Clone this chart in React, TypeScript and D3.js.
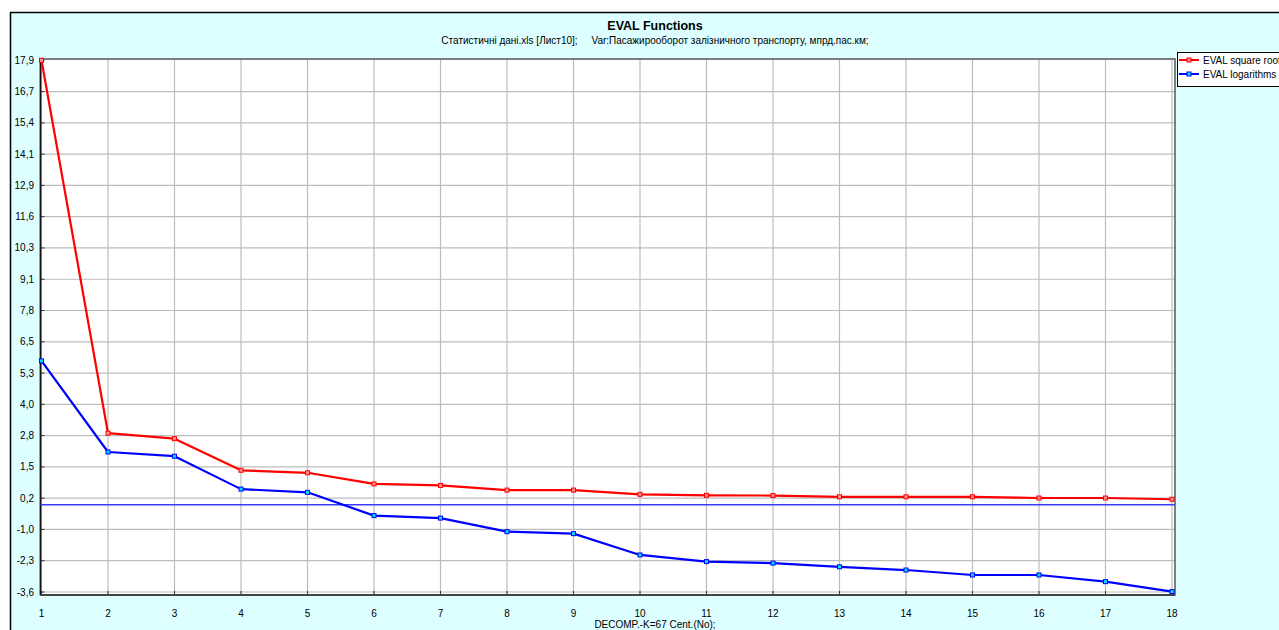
import React from 'react';
import * as d3 from 'd3';

// data
const components = [1, 2, 3, 4, 5, 6, 7, 8, 9, 10, 11, 12, 13, 14, 15, 16, 17, 18];
const sqrtValues = [17.92, 2.85, 2.63, 1.35, 1.25, 0.8, 0.74, 0.55, 0.55, 0.38, 0.34, 0.33, 0.28, 0.28, 0.28, 0.23, 0.23, 0.18];
const logValues = [5.77, 2.09, 1.92, 0.59, 0.46, -0.48, -0.58, -1.13, -1.21, -2.07, -2.34, -2.4, -2.55, -2.68, -2.88, -2.88, -3.15, -3.55];
const refLine = -0.04;
const yMin = -3.568;
const yMax = 17.92;
const yTickCount = 18;
const seriesNames = ['EVAL square roots', 'EVAL logarithms'];

const title = 'EVAL Functions';
const subtitle = 'Статистичні дані.xls [Лист10];     Var:Пасажирооборот залізничного транспорту, мпрд.пас.км;';
const xTitle = 'DECOMP.-K=67 Cent.(No);';

const W = 1279;
const H = 630;
const font = '"Liberation Sans", Arial, sans-serif';

const App = () => {
  const frame = { left: 40.5, right: 1175, top: 59, bottom: 595 };
  const x = d3.scaleLinear().domain([1, 18]).range([41.5, 1172]);
  const y = d3.scaleLinear().domain([yMin, yMax]).range([592, 60.3]);
  const yTicks = d3.range(yTickCount).map((i) => yMin + (i * (yMax - yMin)) / (yTickCount - 1));
  const fmt = (v) => d3.format('.1f')(v).replace('.', ',').replace('−', '-');

  const line = d3
    .line()
    .x((d) => x(d[0]))
    .y((d) => y(d[1]));

  const series = [
    { name: seriesNames[0], values: sqrtValues, color: '#ff0000', fill: '#ff9090' },
    { name: seriesNames[1], values: logValues, color: '#0000ff', fill: '#00e0ff' },
  ];
  const cx = 655;

  return (
    <div style={{ position: 'absolute', left: 0, top: 0 }}>
      <svg width={W} height={H} style={{ display: 'block', fontFamily: font }}>
        <rect x={0} y={0} width={W} height={H} fill="#ffffff" />
        <rect x={10.5} y={12.5} width={W + 20} height={H + 20} fill="#ddffff" stroke="#000" strokeWidth={1.5} />

        <text x={cx} y={29.5} textAnchor="middle" fontSize={12.5} fontWeight="bold" fill="#000">
          {title}
        </text>
        <text x={cx} y={44} textAnchor="middle" fontSize={10} fill="#000" style={{ whiteSpace: 'pre' }}>
          {subtitle}
        </text>

        {/* plot area */}
        <rect x={frame.left} y={frame.top} width={frame.right - frame.left} height={frame.bottom - frame.top} fill="#fff" />

        {/* grid */}
        {yTicks.slice(0, -1).map((t, i) => (
          <line key={'gy' + i} x1={frame.left} x2={frame.right} y1={y(t)} y2={y(t)} stroke="#bcbcbc" strokeWidth={1.2} />
        ))}
        {components.map((c) => (
          <line key={'gx' + c} x1={x(c)} x2={x(c)} y1={frame.top} y2={frame.bottom} stroke="#bcbcbc" strokeWidth={1.2} />
        ))}

        {/* ticks */}
        {yTicks.map((t, i) => (
          <g key={'ty' + i}>
            <line x1={frame.left} x2={frame.left + 4} y1={y(t)} y2={y(t)} stroke="#333" strokeWidth={1} />
            <text x={34} y={y(t) + 3.5} textAnchor="end" fontSize={10} fill="#000">
              {fmt(t)}
            </text>
          </g>
        ))}
        {components.map((c) => (
          <g key={'tx' + c}>
            <line x1={x(c)} x2={x(c)} y1={frame.bottom} y2={frame.bottom - 4} stroke="#333" strokeWidth={1} />
            <text x={x(c)} y={616.5} textAnchor="middle" fontSize={10} fill="#000">
              {c}
            </text>
          </g>
        ))}

        <rect
          x={frame.left}
          y={frame.top}
          width={frame.right - frame.left}
          height={frame.bottom - frame.top}
          fill="none"
          stroke="#555"
          strokeWidth={1.5}
        />
        <line x1={frame.left} x2={frame.left} y1={frame.top} y2={frame.bottom} stroke="#111" strokeWidth={1.5} />
        <line x1={frame.left} x2={frame.right} y1={frame.bottom} y2={frame.bottom} stroke="#444" strokeWidth={2} />

        {/* reference line */}
        <line x1={frame.left} x2={frame.right} y1={y(refLine)} y2={y(refLine)} stroke="#3a3aff" strokeWidth={1.5} />

        {series.map((s) => (
          <g key={s.name}>
            <path
              d={line(components.map((c, i) => [c, s.values[i]]))}
              fill="none"
              stroke={s.color}
              strokeWidth={2.2}
              strokeLinejoin="round"
            />
            {components.map((c, i) => (
              <rect
                key={c}
                x={x(c) - 2}
                y={y(s.values[i]) - 2}
                width={4}
                height={4}
                fill={s.fill}
                stroke={s.color}
                strokeWidth={1}
              />
            ))}
          </g>
        ))}

        <text x={cx} y={628} textAnchor="middle" fontSize={10} fill="#000">
          {xTitle}
        </text>

        {/* legend */}
        <rect x={1177.5} y={52.5} width={140} height={34} fill="#fff" stroke="#000" strokeWidth={1} />
        {series.map((s, i) => (
          <g key={'lg' + i} transform={`translate(1179, ${60 + i * 14})`}>
            <line x1={0} x2={20} y1={0} y2={0} stroke={s.color} strokeWidth={2} />
            <rect x={8} y={-2} width={4} height={4} fill={s.fill} stroke={s.color} strokeWidth={1} />
            <text x={24} y={3.5} fontSize={10} fill="#000">
              {s.name}
            </text>
          </g>
        ))}
      </svg>
    </div>
  );
};

export default App;
